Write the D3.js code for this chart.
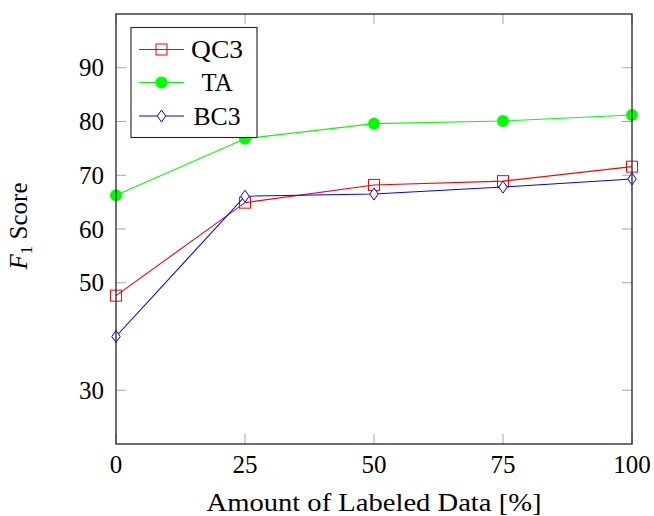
<!DOCTYPE html>
<html><head><meta charset="utf-8">
<script src="https://cdn.jsdelivr.net/npm/d3@7"></script>
<style>body{margin:0;background:#fff}svg{display:block}text{font-family:"Liberation Serif","DejaVu Serif",serif;fill:#000}</style>
</head><body>
<script>
const xValues = [0, 25, 50, 75, 100];
const xTicks = [0, 25, 50, 75, 100];
const yTicks = [30, 50, 60, 70, 80, 90];
const seriesNames = ["QC3", "TA", "BC3"];
const qc3 = [47.6, 64.9, 68.2, 68.9, 71.6];
const ta = [66.3, 76.8, 79.6, 80.1, 81.2];
const bc3 = [40.0, 66.1, 66.5, 67.8, 69.3];
const colors = ["#ff0000", "#00ff00", "#0000ff"];
const markers = ["square", "circle", "diamond"];

const W = 654, H = 516;
const m = {left: 116, right: 632, top: 14, bottom: 444};
const svg = d3.select("body").append("svg").attr("width", W).attr("height", H);
const x = d3.scaleLinear().domain([0, 100]).range([m.left, m.right]);
const y = d3.scaleLinear().domain([20, 100]).range([m.bottom, m.top]);
const fs = 25;

// ticks (inward, gray)
const tickLen = 10, tickCol = "#a6a6a6";
const gT = svg.append("g").attr("stroke", tickCol).attr("stroke-width", 1);
xTicks.forEach(t => {
  gT.append("line").attr("x1", x(t)).attr("x2", x(t)).attr("y1", m.bottom).attr("y2", m.bottom - tickLen);
  gT.append("line").attr("x1", x(t)).attr("x2", x(t)).attr("y1", m.top).attr("y2", m.top + tickLen);
});
yTicks.forEach(t => {
  gT.append("line").attr("y1", y(t)).attr("y2", y(t)).attr("x1", m.left).attr("x2", m.left + tickLen);
  gT.append("line").attr("y1", y(t)).attr("y2", y(t)).attr("x1", m.right).attr("x2", m.right - tickLen);
});

// tick labels
svg.append("g").selectAll("text").data(xTicks).join("text")
  .attr("x", d => x(d)).attr("y", 473).attr("text-anchor", "middle").attr("font-size", fs).text(d => d);
svg.append("g").selectAll("text").data(yTicks).join("text")
  .attr("x", 104).attr("y", d => y(d)).attr("dy", "0.34em").attr("text-anchor", "end").attr("font-size", fs).text(d => d);

// series
const all = [qc3, ta, bc3];
const line = d3.line().x((d, i) => x(xValues[i])).y(d => y(d));
function drawMarker(g, type, cx, cy, col) {
  if (type === "square") g.append("rect").attr("x", cx - 5.5).attr("y", cy - 5.5).attr("width", 11).attr("height", 11)
      .attr("fill", "none").attr("stroke", col).attr("stroke-width", 1);
  else if (type === "circle") g.append("circle").attr("cx", cx).attr("cy", cy).attr("r", 6).attr("fill", col);
  else g.append("path").attr("d", `M${cx},${cy-6}L${cx+4.2},${cy}L${cx},${cy+6}L${cx-4.2},${cy}Z`)
      .attr("fill", "#fff").attr("stroke", col).attr("stroke-width", 1);
}
all.forEach((vals, k) => {
  const g = svg.append("g");
  g.append("path").datum(vals).attr("d", line).attr("fill", "none").attr("stroke", colors[k]).attr("stroke-width", 1.1);
  vals.forEach((v, i) => drawMarker(g, markers[k], x(xValues[i]), y(v), colors[k]));
});

// axis box
svg.append("rect").attr("x", m.left).attr("y", m.top).attr("width", m.right - m.left).attr("height", m.bottom - m.top)
  .attr("fill", "none").attr("stroke", "#222").attr("stroke-width", 1.3);

// legend
const lg = svg.append("g");
lg.append("rect").attr("x", 131).attr("y", 27.5).attr("width", 126).attr("height", 110)
  .attr("fill", "#fff").attr("stroke", "#222").attr("stroke-width", 1.1);
const ly = [49.5, 82.5, 116];
const lw = [52, 31, 47];
seriesNames.forEach((n, k) => {
  lg.append("line").attr("x1", 139).attr("x2", 184).attr("y1", ly[k]).attr("y2", ly[k]).attr("stroke", colors[k]).attr("stroke-width", 1.1);
  drawMarker(lg, markers[k], 161.5, ly[k], colors[k]);
  lg.append("text").attr("x", 217).attr("y", ly[k]).attr("dy", "0.35em").attr("text-anchor", "middle").attr("font-size", fs)
    .attr("textLength", lw[k]).attr("lengthAdjust", "spacingAndGlyphs").text(n);
});

// axis titles
svg.append("text").attr("x", 374).attr("y", 511).attr("text-anchor", "middle").attr("font-size", fs)
  .attr("textLength", 335).attr("lengthAdjust", "spacingAndGlyphs").text("Amount of Labeled Data [%]");
const yl = svg.append("text").attr("transform", "translate(27,226) rotate(-90)").attr("text-anchor", "middle").attr("font-size", fs);
yl.append("tspan").attr("font-style", "italic").text("F");
yl.append("tspan").attr("font-size", 17).attr("dy", 5).text("1");
yl.append("tspan").attr("dy", -5).text(" Score");
</script>
</body></html>
